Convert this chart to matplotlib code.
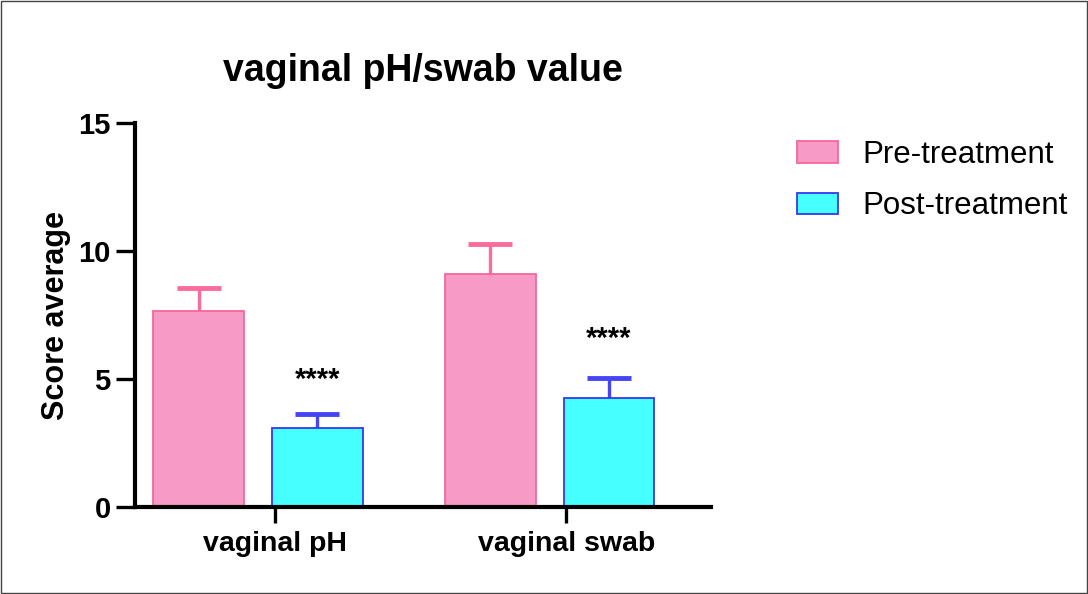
import numpy as np
import matplotlib
matplotlib.use('Agg')
import matplotlib.pyplot as plt
from matplotlib.patches import Rectangle

plt.rcParams['font.family'] = ['Liberation Sans', 'DejaVu Sans']

# data
groups = ['vaginal pH', 'vaginal swab']
series = ['Pre-treatment', 'Post-treatment']
means = {'Pre-treatment': [7.66, 9.10], 'Post-treatment': [3.09, 4.26]}
errors = {'Pre-treatment': [0.90, 1.18], 'Post-treatment': [0.54, 0.78]}
stars = ['****', '****']
star_y = [4.97, 6.57]
y_ticks = [0, 5, 10, 15]

fill = {'Pre-treatment': '#F89AC6', 'Post-treatment': '#46FFFF'}
edge = {'Pre-treatment': '#F7679A', 'Post-treatment': '#3737F2'}
err_col = {'Pre-treatment': '#FB6C9B', 'Post-treatment': '#4545F5'}

fig = plt.figure(figsize=(10.88, 5.94), dpi=100)
ax = fig.add_axes([135 / 1088, 1 - 507 / 594, 576 / 1088, 384 / 594])

x = np.arange(len(groups))
offset = 0.204
width = 0.312
for k, s in enumerate(series):
    xs = x + (k * 2 - 1) * offset
    ax.bar(xs, means[s], width=width, color=fill[s], edgecolor=edge[s],
           linewidth=1.3, label=s, zorder=2)
    eb = ax.errorbar(xs, means[s], yerr=[np.zeros(len(xs)), errors[s]], fmt='none',
                     ecolor=err_col[s], elinewidth=2.4, capsize=16, capthick=3.5, zorder=1)
    eb[1][0].set_visible(False)  # no cap at the bar top

for i, t in enumerate(stars):
    ax.text(x[i] + offset, star_y[i], t, ha='center', va='center',
            fontsize=21, fontweight='bold')

ax.set_xlim(-0.422, 1.554)
ax.set_ylim(0, 15)
ax.set_yticks(y_ticks)
ax.set_yticklabels([str(v) for v in y_ticks], fontsize=21, fontweight='bold')
ax.set_xticks(x + 0.058)
ax.set_xticklabels(groups, fontsize=20.5, fontweight='bold')
ax.tick_params(axis='x', length=11.5, width=2.4, pad=6)
ax.tick_params(axis='y', length=13.5, width=2.4, pad=4)
ax.set_ylabel('Score average', fontsize=22, fontweight='bold', labelpad=5)
ax.set_title('vaginal pH/swab value', fontsize=27, fontweight='bold', pad=30)

for side in ['top', 'right']:
    ax.spines[side].set_visible(False)
for side in ['left', 'bottom']:
    ax.spines[side].set_linewidth(3)

ax.legend(loc='upper left', bbox_to_anchor=(797 / 1088, 1 - 140 / 594),
          bbox_transform=fig.transFigure, frameon=False, fontsize=22.5,
          handlelength=1.32, handleheight=0.68, handletextpad=0.77,
          labelspacing=0.68, borderpad=0, borderaxespad=0)

fig.patches.append(Rectangle((0.001, 0.001), 0.998, 0.997, transform=fig.transFigure,
                             fill=False, edgecolor='#444444', linewidth=1))

fig.savefig('out.png', dpi=100)
